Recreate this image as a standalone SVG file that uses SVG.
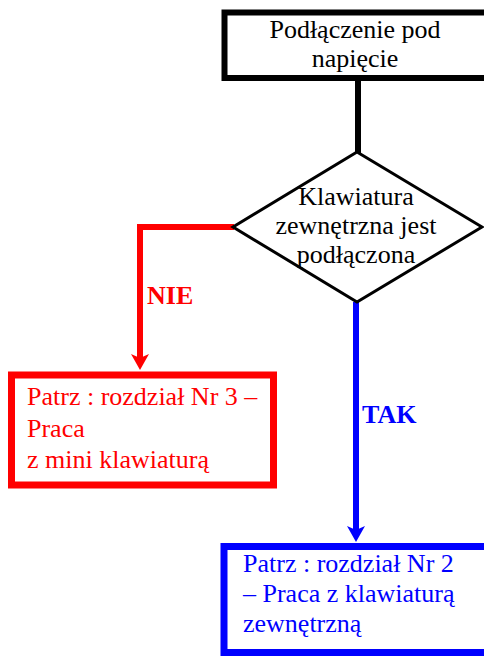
<svg xmlns="http://www.w3.org/2000/svg" width="484" height="657" viewBox="0 0 484 657">
<style>
  text { font-family: "Liberation Serif", "Times New Roman", serif; font-size: 26px; }
  .c { text-anchor: middle; }
  .blk { fill: #000; }
  .red { fill: #FF0000; }
  .blue { fill: #0000FF; }
  .lbl { font-weight: bold; }
</style>
<defs>
  <marker id="arrRed" markerUnits="userSpaceOnUse" orient="auto" refX="4" refY="0" markerWidth="20" markerHeight="20" viewBox="-2 -10 20 20" overflow="visible">
    <path d="M16,0 L0,-9 L4,0 L0,9 Z" fill="#FF0000"/>
  </marker>
  <marker id="arrBlue" markerUnits="userSpaceOnUse" orient="auto" refX="4" refY="0" markerWidth="20" markerHeight="20" viewBox="-2 -10 20 20" overflow="visible">
    <path d="M16,0 L0,-9 L4,0 L0,9 Z" fill="#0000FF"/>
  </marker>
</defs>
<rect width="484" height="657" fill="#fff"/>
<g id="connectors" fill="none">
  <line x1="358" y1="80" x2="358" y2="153" stroke="#000" stroke-width="6"/>
  <polyline points="234,227 140,227 140,358" stroke="#FF0000" stroke-width="6" marker-end="url(#arrRed)"/>
  <line x1="356" y1="302" x2="356" y2="530" stroke="#0000FF" stroke-width="6" marker-end="url(#arrBlue)"/>
</g>
<g id="start">
  <rect x="224.5" y="12.5" width="290" height="65.5" fill="#fff" stroke="#000" stroke-width="6"/>
  <text class="c blk" x="355" y="38">Podłączenie pod</text>
  <text class="c blk" x="355" y="67">napięcie</text>
</g>
<g id="decision">
  <polygon points="357,152 482,227 357,302 233,227" fill="#fff" stroke="#000" stroke-width="3"/>
  <text class="c blk" x="356" y="205">Klawiatura</text>
  <text class="c blk" x="356" y="234">zewnętrzna jest</text>
  <text class="c blk" x="356" y="263">podłączona</text>
</g>
<g id="label-nie">
  <text class="red lbl" x="147" y="304">NIE</text>
</g>
<g id="label-tak">
  <text class="blue lbl" x="362" y="423">TAK</text>
</g>
<g id="mini">
  <rect x="11.5" y="375" width="262" height="110" fill="#fff" stroke="#FF0000" stroke-width="7"/>
  <text class="red" x="27" y="405">Patrz : rozdział Nr 3 –</text>
  <text class="red" x="27" y="437">Praca</text>
  <text class="red" x="27" y="468">z mini klawiaturą</text>
</g>
<g id="external">
  <rect x="224" y="546.5" width="290" height="106" fill="#fff" stroke="#0000FF" stroke-width="7"/>
  <text class="blue" x="243" y="572">Patrz : rozdział Nr 2</text>
  <text class="blue" x="243" y="602">– Praca z klawiaturą</text>
  <text class="blue" x="243" y="632">zewnętrzną</text>
</g>
</svg>
